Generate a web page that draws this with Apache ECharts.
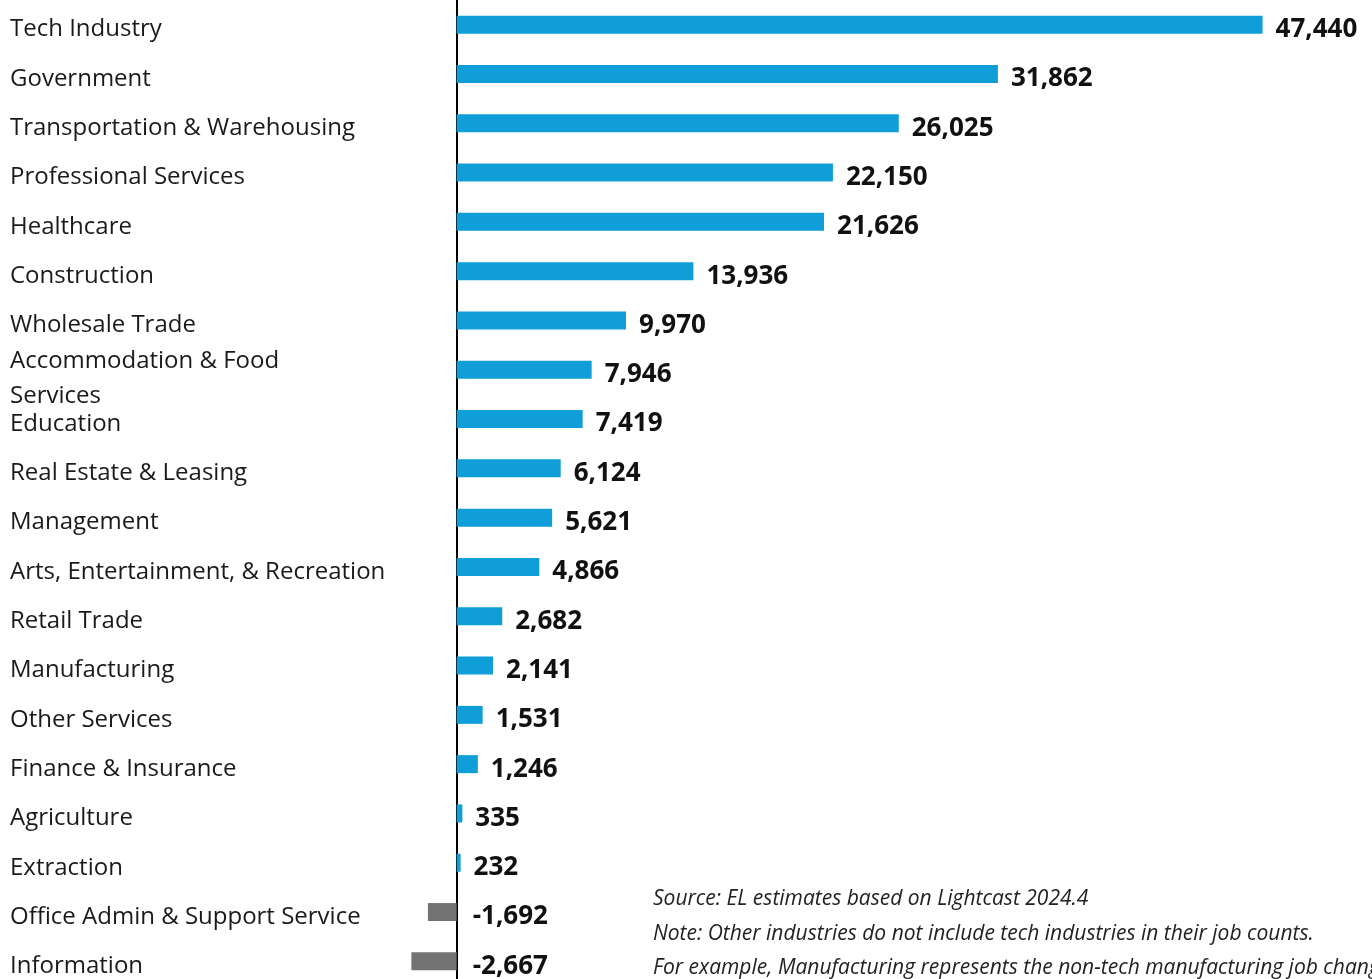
<!DOCTYPE html>
<html>
<head>
<meta charset="utf-8">
<title>Job change by industry</title>
<script src="https://cdn.jsdelivr.net/npm/echarts@6/dist/echarts.min.js"></script>
<style>
  html, body { margin: 0; padding: 0; background: #ffffff; }
  #chart { width: 1372px; height: 979px; }
</style>
</head>
<body>
<div id="chart"></div>
<script>
// Industries, top to bottom
const categories = [
  'Tech Industry',
  'Government',
  'Transportation & Warehousing',
  'Professional Services',
  'Healthcare',
  'Construction',
  'Wholesale Trade',
  'Accommodation & Food Services',
  'Education',
  'Real Estate & Leasing',
  'Management',
  'Arts, Entertainment, & Recreation',
  'Retail Trade',
  'Manufacturing',
  'Other Services',
  'Finance & Insurance',
  'Agriculture',
  'Extraction',
  'Office Admin & Support Service',
  'Information'
];

// Job change per industry
const jobChange = [
  47440, 31862, 26025, 22150, 21626, 13936, 9970, 7946, 7419, 6124,
  5621, 4866, 2682, 2141, 1531, 1246, 335, 232, -1692, -2667
];

// Notes printed under the bars
const footnotes = [
  'Source: EL estimates based on Lightcast 2024.4',
  'Note: Other industries do not include tech industries in their job counts.',
  'For example, Manufacturing represents the non-tech manufacturing job change.'
];

// Names that are set on two lines
const wrapped = {
  'Accommodation & Food Services': '{w|Accommodation & Food}\n{w|Services}'
};

const FONT = '"Open Sans", Lato, sans-serif';
const POS_COLOR = '#0f9ed8';
const NEG_COLOR = '#737373';

const chart = echarts.init(document.getElementById('chart'), null, { renderer: 'canvas' });

const option = {
  backgroundColor: '#ffffff',
  animation: false,
  grid: { left: 15, right: 32, top: 0, height: 986, containLabel: false, outerBoundsMode: 'none' },
  xAxis: {
    type: 'value',
    min: -26000,
    max: 52000,
    show: false
  },
  yAxis: {
    type: 'category',
    inverse: true,
    data: categories,
    axisLine: { show: true, onZero: true, lineStyle: { color: '#000000', width: 2 } },
    axisTick: { show: false },
    splitLine: { show: false },
    axisLabel: {
      align: 'left',
      margin: 5,
      fontFamily: FONT,
      fontSize: 24,
      color: '#1a1a1a',
      lineHeight: 35,
      padding: [10, 0, 0, 0],
      formatter: (name) => wrapped[name] || name,
      rich: {
        w: { fontFamily: FONT, fontSize: 24, color: '#1a1a1a', lineHeight: 35, padding: [8, 0, 0, 0] }
      }
    }
  },
  series: [{
    type: 'bar',
    barWidth: 18,
    data: jobChange.map(v => ({
      value: v,
      itemStyle: { color: v < 0 ? NEG_COLOR : POS_COLOR },
      label: { distance: v < 0 ? 16 : 13 }
    })),
    label: {
      show: true,
      position: 'right',
      offset: [0, 5],
      fontFamily: FONT,
      fontSize: 26,
      fontWeight: 'bold',
      color: '#111111',
      padding: [6, 0, 0, 0],
      formatter: (p) => p.value.toLocaleString('en-US')
    }
  }],
  graphic: footnotes.map((t, i) => ({
    type: 'text',
    left: 653,
    top: 889 + i * 34.5,
    style: {
      text: t,
      fontFamily: FONT,
      fontSize: 21,
      fontStyle: 'italic',
      fill: '#222222'
    }
  }))
};

chart.setOption(option);
</script>
</body>
</html>
